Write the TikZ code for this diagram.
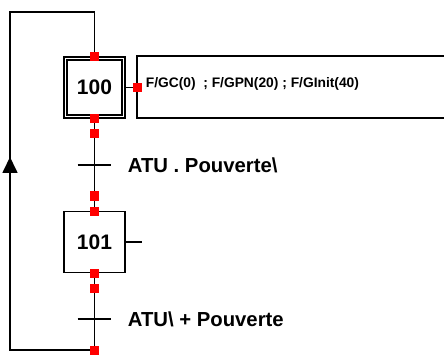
\documentclass[tikz,border=0pt]{standalone}
\usepackage{fontspec}
\setmainfont{Liberation Sans}
\usetikzlibrary{arrows.meta,calc}
\begin{document}
\begin{tikzpicture}[x=1pt,y=-1pt,line width=1.7pt,
  stepbox/.style={draw,minimum width=61pt,minimum height=61pt,inner sep=0pt,font=\bfseries\fontsize{21}{23}\selectfont},
  redsq/.style={fill=red,draw=none,minimum size=9pt,inner sep=0pt},
  trans/.style={minimum width=32pt,minimum height=0pt,inner sep=0pt},
  tlabel/.style={anchor=west,inner sep=0pt,font=\bfseries\fontsize{20.3}{22}\selectfont},
  alabel/.style={anchor=west,inner sep=0pt,font=\bfseries\fontsize{13.8}{16}\selectfont}]
\useasboundingbox (0,0) rectangle (444,358);
% steps
\node[stepbox] (s100) at (94.5,87.5) {100};
\draw ($(s100.north west)+(4,4)$) rectangle ($(s100.south east)+(-4,-4)$);
\node[stepbox] (s101) at (94.5,242) {101};
% transitions
\node[trans] (t1) at (94.5,165) {};
\node[trans] (t2) at (94.5,319) {};
\draw (t1.west) -- (t1.east);
\draw (t2.west) -- (t2.east);
\node[tlabel] (l1) at (127,165) {ATU . Pouverte\textbackslash};
\node[tlabel] (l2) at (127,319) {ATU\textbackslash{} + Pouverte};
% action box
\coordinate (atl) at (137,56);
\coordinate (abl) at (137,118);
\coordinate (atr) at (446,56);
\coordinate (abr) at (446,118);
\draw (atr) -- (atl) -- (abl) -- (abr);
\node[alabel] (act) at (145,84) {F/GC(0)\ \ ; F/GPN(20) ; F/GInit(40)};
\coordinate (ain) at (137,87.5);
\draw (s100.east) -- (ain);
\coordinate (s101out) at (142,242);
\draw (s101.east) -- (s101out);
% vertical links
\coordinate (loopb) at (94.5,350);
\draw (s100.south) -- (s101.north);
\draw (s101.south) -- (loopb);
\coordinate (lbl) at (10,350);
\coordinate (ltl) at (10,12);
\coordinate (ltr) at (94.5,12);
\draw (loopb) -- (lbl) -- (ltl) -- (ltr) -- (s100.north);
\coordinate (arrs) at (10,175);
\coordinate (arre) at (10,157);
\draw[-{Triangle[width=15pt,length=16pt]}] (arrs) -- (arre);
% red markers
\node[redsq] (r1) at (94.5,57) {};
\node[redsq] (r2) at (94.5,119) {};
\node[redsq] (r3) at (94.5,134) {};
\node[redsq] (r4) at (94.5,196) {};
\node[redsq] (r5) at (94.5,211) {};
\node[redsq] (r6) at (94.5,273) {};
\node[redsq] (r7) at (94.5,288) {};
\node[redsq] (r8) at (94.5,350) {};
\node[redsq] (r9) at (137,88) {};
\end{tikzpicture}
\end{document}
